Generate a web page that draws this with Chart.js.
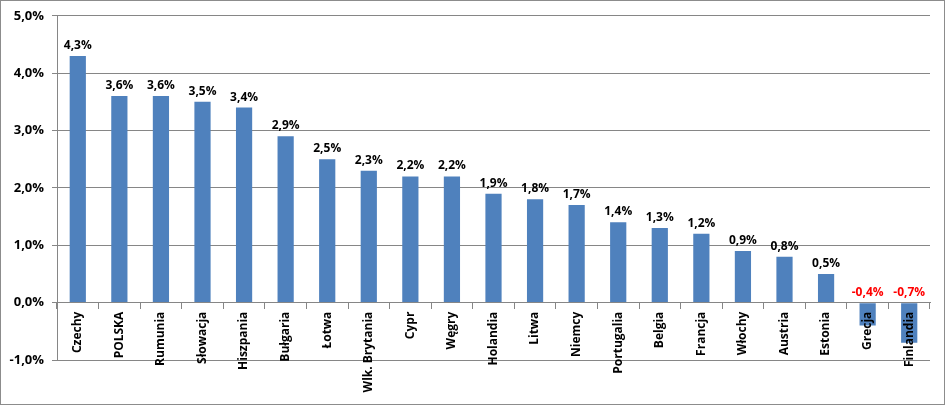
<!DOCTYPE html>
<html>
<head>
<meta charset="utf-8">
<script src="https://cdn.jsdelivr.net/npm/chart.js@4"></script>
<style>
    html, body { margin: 0; padding: 0; background: #fff; }
    #wrap { position: relative; width: 945px; height: 405px; box-sizing: border-box; border: 1px solid #8c8c8c; }
    #wrap canvas { position: absolute; left: -1px; top: -1px; }
</style>
</head>
<body>
<div id="wrap"><canvas id="myChart" width="945" height="405"></canvas></div>
<script>
    const countries = ['Czechy', 'POLSKA', 'Rumunia', 'Słowacja', 'Hiszpania', 'Bułgaria', 'Łotwa',
        'Wlk. Brytania', 'Cypr', 'Węgry', 'Holandia', 'Litwa', 'Niemcy', 'Portugalia', 'Belgia',
        'Francja', 'Włochy', 'Austria', 'Estonia', 'Grecja', 'Finlandia'];
    const growth = [4.3, 3.6, 3.6, 3.5, 3.4, 2.9, 2.5, 2.3, 2.2, 2.2, 1.9, 1.8, 1.7, 1.4, 1.3,
        1.2, 0.9, 0.8, 0.5, -0.4, -0.7];
    const yMin = -1;
    const yMax = 5;
    const yStep = 1;

    function pct(v) {
        return v.toFixed(1).replace('.', ',') + '%';
    }

    // value labels above the bars, negatives in red above the zero line
    const barLabels = {
        id: 'barLabels',
        afterDatasetsDraw: function (chart) {
            let ctx = chart.ctx;
            let zero = chart.scales.y.getPixelForValue(0);
            let meta = chart.getDatasetMeta(0);
            ctx.save();
            ctx.font = 'bold 12px "Open Sans"';
            ctx.textAlign = 'center';
            ctx.textBaseline = 'alphabetic';
            meta.data.forEach(function (bar, i) {
                let v = growth[i];
                ctx.fillStyle = v < 0 ? '#ff0000' : '#000000';
                ctx.fillText(pct(v), bar.x, Math.min(bar.y, zero) - 7);
            });
            ctx.restore();
        }
    };

    let ctx = document.getElementById('myChart');
    let myChart = new Chart(ctx, {
        type: 'bar',
        data: {
            labels: countries,
            datasets: [{
                data: growth,
                backgroundColor: '#4f81bd',
                borderWidth: 0,
                barPercentage: 0.39,
                categoryPercentage: 1
            }]
        },
        options: {
            responsive: false,
            animation: false,
            devicePixelRatio: 1,
            layout: {padding: {top: 15, right: 15, bottom: 45, left: 0}},
            plugins: {
                legend: {display: false},
                tooltip: {enabled: false}
            },
            scales: {
                x: {
                    position: {y: 0},
                    offset: true,
                    grid: {
                        offset: true,
                        drawOnChartArea: false,
                        drawTicks: true,
                        tickLength: 6,
                        color: '#868686',
                        z: 1
                    },
                    border: {display: true, color: '#868686', z: 1},
                    ticks: {
                        z: 2,
                        minRotation: 90,
                        maxRotation: 90,
                        autoSkip: false,
                        padding: 3,
                        color: '#000',
                        font: {family: 'Open Sans', size: 12, weight: 'bold'}
                    }
                },
                y: {
                    min: yMin,
                    max: yMax,
                    afterFit: function (scale) {
                        scale.width = 57;
                    },
                    grid: {
                        color: '#868686',
                        tickLength: 5
                    },
                    border: {display: true, color: '#868686'},
                    ticks: {
                        stepSize: yStep,
                        padding: 8,
                        color: '#000',
                        font: {family: 'Open Sans', size: 13, weight: 'bold'},
                        callback: function (v) {
                            return pct(v);
                        }
                    }
                }
            }
        },
        plugins: [barLabels]
    });
</script>
</body>
</html>
